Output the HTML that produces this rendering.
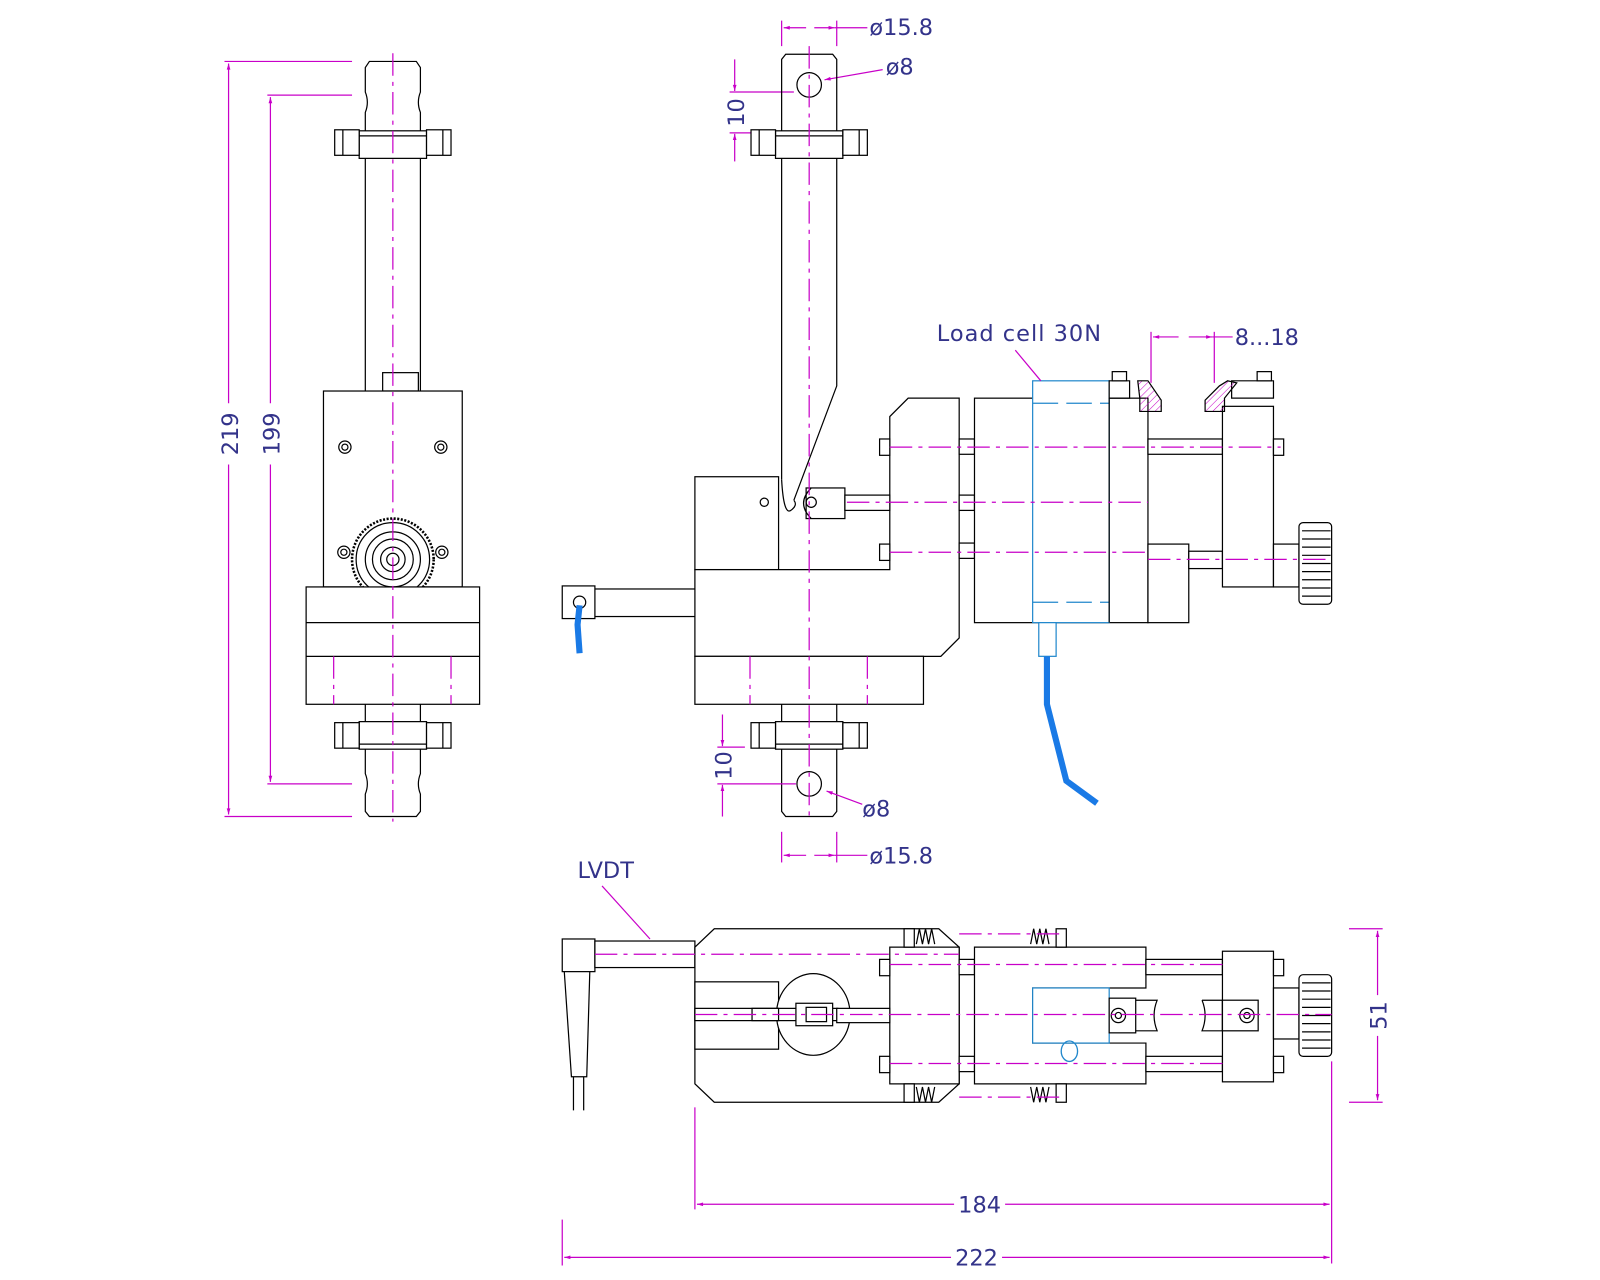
<!DOCTYPE html>
<html><head><meta charset="utf-8"><style>
html,body{margin:0;padding:0;background:#fff;}
svg{display:block}
text{font-family:"DejaVu Sans","Liberation Sans",sans-serif;fill:#33338a;font-size:22px}
.k{stroke:#000;stroke-width:1.2;fill:none}
.kf{stroke:#000;stroke-width:1.2;fill:#fff}
.m{stroke:#c800c8;stroke-width:1.2;fill:none}
.c{stroke:#c800c8;stroke-width:1.2;fill:none;stroke-dasharray:22 6 4 6}
.b{stroke:#2288cc;stroke-width:1.3;fill:none}
.bc{stroke:#1a7ae6;stroke-width:6;fill:none}
</style></head><body>
<svg width="1600" height="1280" viewBox="0 0 1568 1254" xmlns="http://www.w3.org/2000/svg">
<defs>
<marker id="a" viewBox="0 0 10 10" refX="10" refY="5" markerWidth="10" markerHeight="6" orient="auto-start-reverse" markerUnits="userSpaceOnUse"><path d="M0,2 L10,5 L0,8z" fill="#c800c8"/></marker>
<pattern id="h" width="5" height="5" patternUnits="userSpaceOnUse" patternTransform="rotate(45)"><line x1="0" y1="0" x2="0" y2="5" stroke="#c800c8" stroke-width="1"/></pattern>
</defs>

<!-- ===== LEFT VIEW ===== -->
<line class="m" x1="220" y1="60" x2="345" y2="60"/>
<line class="m" x1="220" y1="800" x2="345" y2="800"/>
<line class="m" x1="262" y1="93" x2="345" y2="93"/>
<line class="m" x1="262" y1="768" x2="345" y2="768"/>
<line class="m" x1="224" y1="62" x2="224" y2="395" marker-start="url(#a)"/>
<line class="m" x1="224" y1="455" x2="224" y2="798" marker-end="url(#a)"/>
<line class="m" x1="265" y1="95" x2="265" y2="395" marker-start="url(#a)"/>
<line class="m" x1="265" y1="455" x2="265" y2="766" marker-end="url(#a)"/>
<text transform="translate(233,425) rotate(-90)" text-anchor="middle">219</text>
<text transform="translate(274,425) rotate(-90)" text-anchor="middle">199</text>
<path class="k" d="M358,383 L358,110 Q362,100 358,90 L358,66 L362,60 L408,60 L412,66 L412,90 Q408,100 412,110 L412,383"/>
<rect class="kf" x="352" y="128" width="66" height="27"/>
<line class="k" x1="352" y1="133" x2="418" y2="133"/>
<rect class="kf" x="328" y="127" width="24" height="25"/><line class="k" x1="336" y1="127" x2="336" y2="152"/>
<rect class="kf" x="418" y="127" width="24" height="25"/><line class="k" x1="434" y1="127" x2="434" y2="152"/>
<rect class="kf" x="375" y="365" width="35" height="18"/>
<rect class="kf" x="317" y="383" width="136" height="192"/>
<circle class="k" cx="338" cy="438" r="6"/><circle class="k" cx="338" cy="438" r="3"/>
<circle class="k" cx="432" cy="438" r="6"/><circle class="k" cx="432" cy="438" r="3"/>
<circle class="k" cx="337" cy="541" r="6"/><circle class="k" cx="337" cy="541" r="3"/>
<circle class="k" cx="433" cy="541" r="6"/><circle class="k" cx="433" cy="541" r="3"/>
<circle cx="385" cy="548" r="40" fill="#fff" stroke="#000" stroke-width="2.5" stroke-dasharray="2 1.5"/>
<circle class="k" cx="385" cy="548" r="36"/>
<circle class="k" cx="385" cy="548" r="27"/>
<circle class="k" cx="385" cy="548" r="20"/>
<circle class="k" cx="385" cy="548" r="12"/>
<circle class="k" cx="385" cy="548" r="6"/>
<rect class="kf" x="300" y="575" width="170" height="115"/>
<line class="k" x1="300" y1="610" x2="470" y2="610"/>
<line class="k" x1="300" y1="643" x2="470" y2="643"/>
<line class="c" x1="327" y1="643" x2="327" y2="690"/>
<line class="c" x1="442" y1="643" x2="442" y2="690"/>
<path class="k" d="M358,690 L358,758 Q362,768 358,778 L358,795 L362,800 L408,800 L412,795 L412,778 Q408,768 412,758 L412,690"/>
<rect class="kf" x="352" y="707" width="66" height="27"/>
<line class="k" x1="352" y1="729" x2="418" y2="729"/>
<rect class="kf" x="328" y="708" width="24" height="25"/><line class="k" x1="336" y1="708" x2="336" y2="733"/>
<rect class="kf" x="418" y="708" width="24" height="25"/><line class="k" x1="434" y1="708" x2="434" y2="733"/>
<line class="c" x1="385" y1="52" x2="385" y2="805"/>

<!-- ===== MIDDLE VIEW ===== -->
<line class="m" x1="766" y1="20" x2="766" y2="45"/><line class="m" x1="820" y1="20" x2="820" y2="45"/>
<line class="m" x1="768" y1="27" x2="790" y2="27" marker-start="url(#a)"/>
<line class="m" x1="798" y1="27" x2="818" y2="27" marker-end="url(#a)"/>
<line class="m" x1="818" y1="27" x2="850" y2="27"/>
<text x="852" y="34">ø15.8</text>
<line class="m" x1="808" y1="78" x2="865" y2="68" marker-start="url(#a)"/>
<text x="868" y="73">ø8</text>
<line class="m" x1="715" y1="90" x2="778" y2="90"/>
<line class="m" x1="715" y1="130" x2="740" y2="130"/>
<line class="m" x1="720" y1="58" x2="720" y2="89" marker-end="url(#a)"/>
<line class="m" x1="720" y1="131" x2="720" y2="158" marker-start="url(#a)"/>
<text transform="translate(729,110) rotate(-90)" text-anchor="middle">10</text>
<path class="k" d="M766,470 L766,58 L770,53 L816,53 L820,58 L820,378 L778,490"/>
<circle class="k" cx="793" cy="83" r="12"/>
<rect class="kf" x="760" y="128" width="66" height="27"/>
<line class="k" x1="760" y1="133" x2="826" y2="133"/>
<rect class="kf" x="736" y="127" width="24" height="25"/><line class="k" x1="744" y1="127" x2="744" y2="152"/>
<rect class="kf" x="826" y="127" width="24" height="25"/><line class="k" x1="842" y1="127" x2="842" y2="152"/>
<rect class="kf" x="681" y="467" width="82" height="91"/>
<circle class="k" cx="749" cy="492" r="4"/>
<path class="k" d="M766,470 Q768,505 775,500 Q782,495 778,490"/>
<path class="kf" d="M681,558 L872,558 L872,408 L890,390 L940,390 L940,625 L922,643 L681,643 Z"/>
<rect class="kf" x="681" y="643" width="224" height="47"/>
<line class="c" x1="735" y1="643" x2="735" y2="690"/>
<line class="c" x1="850" y1="643" x2="850" y2="690"/>
<rect class="kf" x="790" y="478" width="38" height="30"/>
<path class="k" d="M795,478 Q780,493 795,508"/>
<circle class="k" cx="795" cy="492" r="5"/>
<rect class="kf" x="828" y="485" width="44" height="15"/>
<rect class="kf" x="862" y="430" width="10" height="16"/>
<rect class="kf" x="862" y="533" width="10" height="16"/>
<rect class="kf" x="583" y="577" width="98" height="27"/>
<rect class="kf" x="551" y="574" width="32" height="32"/>
<circle class="k" cx="568" cy="590" r="6"/>
<path class="bc" d="M568,593 L566,612 L568,640"/>
<path class="k" d="M766,690 L766,795 L770,800 L816,800 L820,795 L820,690"/>
<circle class="k" cx="793" cy="768" r="12"/>
<rect class="kf" x="760" y="707" width="66" height="27"/>
<line class="k" x1="760" y1="729" x2="826" y2="729"/>
<rect class="kf" x="736" y="708" width="24" height="25"/><line class="k" x1="744" y1="708" x2="744" y2="733"/>
<rect class="kf" x="826" y="708" width="24" height="25"/><line class="k" x1="842" y1="708" x2="842" y2="733"/>
<line class="c" x1="793" y1="45" x2="793" y2="805"/>
<line class="m" x1="703" y1="732" x2="730" y2="732"/>
<line class="m" x1="703" y1="768" x2="780" y2="768"/>
<line class="m" x1="708" y1="700" x2="708" y2="731" marker-end="url(#a)"/>
<line class="m" x1="708" y1="769" x2="708" y2="800" marker-start="url(#a)"/>
<text transform="translate(717,750) rotate(-90)" text-anchor="middle">10</text>
<line class="m" x1="810" y1="775" x2="845" y2="788" marker-start="url(#a)"/>
<text x="845" y="800">ø8</text>
<line class="m" x1="766" y1="815" x2="766" y2="845"/><line class="m" x1="820" y1="815" x2="820" y2="845"/>
<line class="m" x1="768" y1="838" x2="790" y2="838" marker-start="url(#a)"/>
<line class="m" x1="798" y1="838" x2="818" y2="838" marker-end="url(#a)"/>
<line class="m" x1="818" y1="838" x2="850" y2="838"/>
<text x="852" y="846">ø15.8</text>
<rect class="kf" x="940" y="430" width="15" height="15"/>
<rect class="kf" x="940" y="485" width="15" height="15"/>
<rect class="kf" x="940" y="532" width="15" height="15"/>
<rect class="kf" x="955" y="390" width="170" height="220"/>
<rect class="kf" x="1012" y="373" width="75" height="237" style="stroke:#2288cc"/>
<line class="b" x1="1012" y1="395" x2="1087" y2="395" stroke-dasharray="25 8"/>
<line class="b" x1="1012" y1="590" x2="1087" y2="590" stroke-dasharray="25 8"/>
<line class="k" x1="1087" y1="390" x2="1087" y2="610"/>
<rect class="kf" x="1125" y="533" width="40" height="77"/>
<rect class="kf" x="1125" y="430" width="73" height="15"/>
<rect class="kf" x="1165" y="540" width="33" height="17"/>
<rect class="kf" x="1198" y="398" width="50" height="177"/>
<rect class="kf" x="1248" y="430" width="10" height="16"/>
<rect class="kf" x="1248" y="533" width="25" height="42"/>
<rect class="kf" x="1273" y="512" width="32" height="80" rx="4"/>
<path class="k" d="M1276,520h28M1276,528h28M1276,536h28M1276,544h28M1276,552h28M1276,560h28M1276,568h28M1276,576h28M1276,584h28"/>
<path class="kf" d="M1087,373 L1107,373 L1107,390 L1087,390Z"/>
<rect class="kf" x="1090" y="364" width="14" height="9"/>
<path d="M1115,373 L1125,373 L1138,392 L1138,403 L1117,403 L1117,390 Z" fill="url(#h)" stroke="#000" stroke-width="1.2"/>
<path class="kf" d="M1207,373 L1248,373 L1248,390 L1207,390Z"/>
<rect class="kf" x="1232" y="364" width="14" height="9"/>
<path d="M1203,373 L1195,378 L1181,392 L1181,403 L1200,403 L1200,390 L1212,375 Z" fill="url(#h)" stroke="#000" stroke-width="1.2"/>
<line class="c" x1="872" y1="438" x2="1255" y2="438"/>
<line class="c" x1="830" y1="492" x2="1125" y2="492"/>
<line class="c" x1="872" y1="541" x2="1125" y2="541"/>
<line class="c" x1="1125" y1="548" x2="1305" y2="548"/>
<rect class="kf" x="1018" y="610" width="17" height="33" style="stroke:#2288cc"/>
<path class="bc" d="M1026,643 L1026,690 L1045,765 L1075,787"/>
<text x="918" y="334" letter-spacing="1">Load  cell  30N</text>
<line class="m" x1="995" y1="343" x2="1020" y2="373"/>
<line class="m" x1="1128" y1="325" x2="1128" y2="375"/>
<line class="m" x1="1190" y1="325" x2="1190" y2="375"/>
<line class="m" x1="1130" y1="330" x2="1155" y2="330" marker-start="url(#a)"/>
<line class="m" x1="1165" y1="330" x2="1188" y2="330" marker-end="url(#a)"/>
<line class="m" x1="1188" y1="330" x2="1208" y2="330"/>
<text x="1210" y="338">8...18</text>

<!-- ===== BOTTOM VIEW ===== -->
<text x="566" y="860">LVDT</text>
<line class="m" x1="590" y1="868" x2="637" y2="920"/>
<rect class="kf" x="551" y="920" width="32" height="32"/>
<rect class="kf" x="583" y="922" width="98" height="26"/>
<path class="k" d="M553,952 L560,1055 L575,1055 L578,952"/>
<path class="k" d="M562,1055 L562,1088 M572,1055 L572,1088"/>
<path class="kf" d="M700,910 L920,910 L940,928 L940,1062 L920,1080 L700,1080 L681,1062 L681,928 Z"/>
<rect class="kf" x="681" y="962" width="82" height="66"/>
<ellipse class="kf" cx="797" cy="994" rx="36" ry="40"/>
<rect class="kf" x="681" y="988" width="140" height="12"/>
<rect class="kf" x="737" y="988" width="26" height="12"/>
<rect class="kf" x="780" y="983" width="36" height="22"/>
<rect class="kf" x="790" y="987" width="20" height="14"/>
<rect class="kf" x="872" y="928" width="68" height="134"/>
<rect class="kf" x="862" y="940" width="10" height="16"/>
<rect class="kf" x="862" y="1035" width="10" height="16"/>
<rect class="kf" x="940" y="940" width="15" height="15"/>
<rect class="kf" x="940" y="1035" width="15" height="15"/>
<rect class="kf" x="820" y="988" width="52" height="14"/>
<path class="kf" d="M955,928 L1123,928 L1123,968 L1012,968 L1012,1022 L1123,1022 L1123,1062 L955,1062 Z"/>
<rect class="kf" x="1012" y="968" width="75" height="54" style="stroke:#2288cc"/>
<rect class="kf" x="1087" y="978" width="26" height="34"/>
<ellipse class="b" cx="1048" cy="1030" rx="8" ry="10"/>
<circle class="k" cx="1096" cy="995" r="7"/><circle class="k" cx="1096" cy="995" r="3"/>
<path class="k" d="M1113,980 L1134,980 Q1128,995 1134,1010 L1113,1010 M1178,980 L1198,980 L1198,1010 L1178,1010 Q1184,995 1178,980"/>
<rect class="kf" x="1123" y="940" width="75" height="15"/>
<rect class="kf" x="1123" y="1035" width="75" height="15"/>
<rect class="kf" x="1198" y="932" width="50" height="128"/>
<rect class="kf" x="1198" y="980" width="35" height="30"/>
<circle class="k" cx="1222" cy="995" r="7"/><circle class="k" cx="1222" cy="995" r="3"/>
<rect class="kf" x="1248" y="940" width="10" height="16"/>
<rect class="kf" x="1248" y="1035" width="10" height="16"/>
<rect class="kf" x="1248" y="968" width="25" height="50"/>
<rect class="kf" x="1273" y="955" width="32" height="80" rx="4"/>
<path class="k" d="M1276,963h28M1276,971h28M1276,979h28M1276,987h28M1276,995h28M1276,1003h28M1276,1011h28M1276,1019h28M1276,1027h28"/>
<g stroke="#000" stroke-width="1.2" fill="none">
<path d="M898,925 l3,-15 l3,15 l3,-15 l3,15 l3,-15 l3,15"/>
<path d="M1010,925 l3,-15 l3,15 l3,-15 l3,15 l3,-15 l3,15"/>
<path d="M898,1065 l3,15 l3,-15 l3,15 l3,-15 l3,15 l3,-15"/>
<path d="M1010,1065 l3,15 l3,-15 l3,15 l3,-15 l3,15 l3,-15"/>
</g>
<g fill="#fff" stroke="#000" stroke-width="1.2">
<rect x="886" y="910" width="10" height="18"/><rect x="1035" y="910" width="10" height="18"/>
<rect x="886" y="1062" width="10" height="18"/><rect x="1035" y="1062" width="10" height="18"/>
</g>
<line class="c" x1="583" y1="935" x2="940" y2="935"/>
<line class="c" x1="940" y1="915" x2="1040" y2="915"/>
<line class="c" x1="940" y1="1075" x2="1040" y2="1075"/>
<line class="c" x1="872" y1="945" x2="1200" y2="945"/>
<line class="c" x1="872" y1="1042" x2="1200" y2="1042"/>
<line class="c" x1="681" y1="994" x2="1305" y2="994"/>
<line class="m" x1="1322" y1="910" x2="1355" y2="910"/>
<line class="m" x1="1322" y1="1080" x2="1355" y2="1080"/>
<line class="m" x1="1350" y1="912" x2="1350" y2="975" marker-start="url(#a)"/>
<line class="m" x1="1350" y1="1015" x2="1350" y2="1078" marker-end="url(#a)"/>
<text transform="translate(1359,995) rotate(-90)" text-anchor="middle">51</text>
<line class="m" x1="681" y1="1085" x2="681" y2="1185"/>
<line class="m" x1="1305" y1="1040" x2="1305" y2="1238"/>
<line class="m" x1="551" y1="1195" x2="551" y2="1240"/>
<line class="m" x1="683" y1="1180" x2="935" y2="1180" marker-start="url(#a)"/>
<line class="m" x1="985" y1="1180" x2="1303" y2="1180" marker-end="url(#a)"/>
<text x="960" y="1188" text-anchor="middle">184</text>
<line class="m" x1="553" y1="1232" x2="932" y2="1232" marker-start="url(#a)"/>
<line class="m" x1="982" y1="1232" x2="1303" y2="1232" marker-end="url(#a)"/>
<text x="957" y="1240" text-anchor="middle">222</text>
</svg>
</body></html>
